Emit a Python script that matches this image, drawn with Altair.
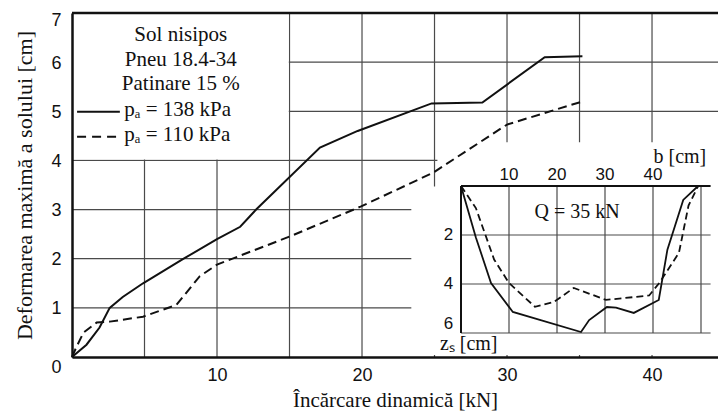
import altair as alt
import pandas as pd

# ---------------- data ----------------
# main chart: max soil deformation [cm] vs dynamic load [kN]
load_138 = [0, 1.0, 1.9, 2.6, 3.5, 4.9, 7.7, 10.0, 11.6, 12.7, 17.1, 19.7, 24.8, 28.3, 32.6, 35.2]
defo_138 = [0, 0.25, 0.6, 1.0, 1.22, 1.5, 2.0, 2.4, 2.65, 3.0, 4.26, 4.6, 5.16, 5.18, 6.1, 6.12]
load_110 = [0, 0.3, 0.8, 1.7, 2.6, 4.9, 7.2, 8.8, 10.0, 15.0, 19.9, 24.9, 30.0, 35.2]
defo_110 = [0, 0.2, 0.5, 0.7, 0.72, 0.82, 1.06, 1.64, 1.88, 2.45, 3.06, 3.75, 4.73, 5.2]

# inset: rut profile z_s [cm] vs width b [cm], Q = 35 kN
b_138 = [0, 3.1, 6.25, 10.8, 25.0, 26.7, 30.4, 32.3, 36.0, 41.2, 43.0, 46.3, 49.4]
z_138 = [0, 2.1, 3.96, 5.14, 5.96, 5.47, 4.94, 4.96, 5.18, 4.65, 2.6, 0.57, 0]
b_110 = [0, 3.1, 6.9, 10.0, 15.4, 19.4, 23.5, 30.2, 39.2, 41.3, 45.4, 47.4, 49.4]
z_110 = [0, 0.9, 3.0, 3.96, 4.93, 4.73, 4.16, 4.65, 4.47, 3.96, 2.73, 0.8, 0]

x_ticks = [10, 20, 30, 40]
y_ticks = [0, 1, 2, 3, 4, 5, 6, 7]
x_grid = [5, 10, 15, 20, 25, 30, 35, 40]
y_grid = [1, 2, 3, 4, 5, 6]
inset_b_ticks = [10, 20, 30, 40]
inset_b_grid = [10, 20, 30, 40, 50]
inset_z_ticks = [2, 4, 6]

legend_lines = ["Sol nisipos", "Pneu 18.4-34", "Patinare 15 %"]
series_labels = ["pₐ = 138 kPa", "pₐ = 110 kPa"]
x_title = "Încărcare dinamică [kN]"
y_title = "Deformarea maximă a solului [cm]"
inset_title = "Q = 35 kN"
inset_b_title = "b [cm]"
inset_z_title = "zₛ [cm]"

# ---------------- styling ----------------
SERIF = "Liberation Serif"
SANS = "Liberation Sans"
INK = "#111111"
GRID = "#4a4a4a"
W, H = 646, 344

xs = alt.Scale(domain=[0, 44.55], nice=False, zero=False)
ys = alt.Scale(domain=[0, 7], nice=False, zero=False)

x_axis = alt.Axis(values=x_ticks, grid=False, ticks=False, domainColor=INK, domainWidth=2.5,
                  labelFont=SANS, labelFontSize=18, labelColor=INK, labelPadding=9,
                  labelFlush=False, title=x_title, titleFont=SERIF, titleFontSize=21,
                  titleFontWeight="normal", titleColor=INK, titlePadding=5, zindex=1)
y_axis = alt.Axis(values=y_ticks, grid=False, ticks=False, domainColor=INK, domainWidth=2.5,
                  labelFont=SANS, labelFontSize=18, labelColor=INK, labelPadding=11,
                  labelOffset={"condition": [{"test": "datum.value == 0", "value": 10},
                                             {"test": "datum.value == 7", "value": 7}],
                               "value": 1},
                  title=y_title, titleFont=SERIF, titleFontSize=22, titleFontWeight="normal",
                  titleColor=INK, titlePadding=14, zindex=1)


def X(f):
    return alt.X(f, type="quantitative", scale=xs, axis=x_axis)


def Y(f):
    return alt.Y(f, type="quantitative", scale=ys, axis=y_axis)


# grid
vgrid = alt.Chart(pd.DataFrame({"v": x_grid})).mark_rule(color=GRID, strokeWidth=1.2).encode(x=X("v"))
hgrid = alt.Chart(pd.DataFrame({"h": y_grid})).mark_rule(color=GRID, strokeWidth=1.2).encode(y=Y("h"))

# white boxes behind legend and inset
masks = pd.DataFrame({"x0": [0, 23.4, 25.2], "x1": [14.95, 44.55, 44.55],
                      "y0": [4.02, 0.04, 3.45], "y1": [7.0, 3.47, 4.37]})
mask = alt.Chart(masks).mark_rect(color="white").encode(
    x=X("x0"), x2=alt.X2("x1"), y=Y("y0"), y2=alt.Y2("y1"))

top_border = alt.Chart(pd.DataFrame({"t": [7]})).mark_rule(color=INK, strokeWidth=2.5).encode(y=Y("t"))

df138 = pd.DataFrame({"x": load_138, "y": defo_138, "i": range(len(load_138))})
df110 = pd.DataFrame({"x": load_110, "y": defo_110, "i": range(len(load_110))})
line138 = alt.Chart(df138).mark_line(color=INK, strokeWidth=2).encode(x=X("x"), y=Y("y"), order="i:Q")
line110 = alt.Chart(df110).mark_line(color=INK, strokeWidth=2, strokeDash=[9, 5]).encode(
    x=X("x"), y=Y("y"), order="i:Q")

# legend
leg_solid = alt.Chart(pd.DataFrame({"x0": [0.35], "x1": [3.3], "y": [4.99]})).mark_rule(
    color=INK, strokeWidth=2).encode(x=X("x0"), x2=alt.X2("x1"), y=Y("y"))
leg_dash = alt.Chart(pd.DataFrame({"x0": [0.35], "x1": [3.3], "y": [4.48]})).mark_rule(
    color=INK, strokeWidth=2, strokeDash=[9, 6]).encode(x=X("x0"), x2=alt.X2("x1"), y=Y("y"))
leg_title = alt.Chart(pd.DataFrame({"t": legend_lines, "x": [7.5] * 3, "y": [6.56, 6.05, 5.56]})).mark_text(
    font=SERIF, fontSize=21, color=INK, align="center", baseline="middle").encode(
    x=X("x"), y=Y("y"), text="t:N")
leg_series = alt.Chart(pd.DataFrame({"t": series_labels, "x": [3.6, 3.6], "y": [5.02, 4.51]})).mark_text(
    font=SERIF, fontSize=21, color=INK, align="left", baseline="middle").encode(
    x=X("x"), y=Y("y"), text="t:N")

main = alt.layer(vgrid, hgrid, mask, top_border, line138, line110,
                 leg_solid, leg_dash, leg_title, leg_series)

# ---------------- inset ----------------
bs = alt.Scale(domain=[0, 50], range=[389, 629], nice=False, zero=False)
zs = alt.Scale(domain=[0, 6], range=[173, 320], nice=False, zero=False)


def B(f):
    return alt.X(f, type="quantitative", scale=bs, axis=None)


def Z(f):
    return alt.Y(f, type="quantitative", scale=zs, axis=None)


ih = pd.DataFrame({"z": inset_z_ticks, "b0": [0] * 3, "b1": [52] * 3})
iv = pd.DataFrame({"b": inset_b_grid, "z0": [0] * 5, "z1": [6] * 5})
in_hgrid = alt.Chart(ih).mark_rule(color=GRID, strokeWidth=1.2).encode(x=B("b0"), x2=alt.X2("b1"), y=Z("z"))
in_vgrid = alt.Chart(iv).mark_rule(color=GRID, strokeWidth=1.2).encode(x=B("b"), y=Z("z0"), y2=alt.Y2("z1"))
in_top = alt.Chart(pd.DataFrame({"b0": [0], "b1": [52], "z": [0]})).mark_rule(
    color=INK, strokeWidth=2).encode(x=B("b0"), x2=alt.X2("b1"), y=Z("z"))
in_left = alt.Chart(pd.DataFrame({"b": [0], "z0": [0], "z1": [6]})).mark_rule(
    color=INK, strokeWidth=2).encode(x=B("b"), y=Z("z0"), y2=alt.Y2("z1"))

di138 = pd.DataFrame({"b": b_138, "z": z_138, "i": range(len(b_138))})
di110 = pd.DataFrame({"b": b_110, "z": z_110, "i": range(len(b_110))})
in138 = alt.Chart(di138).mark_line(color=INK, strokeWidth=1.8).encode(x=B("b"), y=Z("z"), order="i:Q")
in110 = alt.Chart(di110).mark_line(color=INK, strokeWidth=1.8, strokeDash=[7, 4]).encode(
    x=B("b"), y=Z("z"), order="i:Q")

in_btick = alt.Chart(pd.DataFrame({"b": inset_b_ticks})).transform_calculate(
    z="-0.08", t="format(datum.b, 'd')").mark_text(
    font=SANS, fontSize=17, color=INK, align="center", baseline="bottom").encode(
    x=B("b"), y=Z("z:Q"), text="t:N")
in_ztick = alt.Chart(pd.DataFrame({"z": inset_z_ticks})).transform_calculate(
    b="-1.6", zp="datum.z == 6 ? 5.62 : datum.z", t="format(datum.z, 'd')").mark_text(
    font=SANS, fontSize=17, color=INK, align="right", baseline="middle").encode(
    x=B("b:Q"), y=Z("zp:Q"), text="t:N")
in_texts = alt.Chart(pd.DataFrame({
    "t": [inset_title, inset_b_title],
    "b": [24.2, 45.6],
    "z": [1.06, -1.2]})).mark_text(
    font=SERIF, fontSize=20, color=INK, align="center", baseline="middle").encode(
    x=B("b"), y=Z("z"), text="t:N")
in_ztitle = alt.Chart(pd.DataFrame({"t": [inset_z_title], "b": [-4.4], "z": [6.45]})).mark_text(
    font=SERIF, fontSize=20, color=INK, align="left", baseline="middle").encode(
    x=B("b"), y=Z("z"), text="t:N")

inset = alt.layer(in_hgrid, in_vgrid, in_top, in_left, in138, in110,
                  in_btick, in_ztick, in_texts, in_ztitle)

chart = alt.layer(main, inset).resolve_scale(x="independent", y="independent").properties(
    width=W, height=H,
    autosize=alt.AutoSizeParams(type="none"),
    padding={"left": 72, "top": 13, "right": 0, "bottom": 57},
    background="white",
).configure_view(strokeOpacity=0)

chart.save("out.html", embed_options={"renderer": "svg", "actions": False})
